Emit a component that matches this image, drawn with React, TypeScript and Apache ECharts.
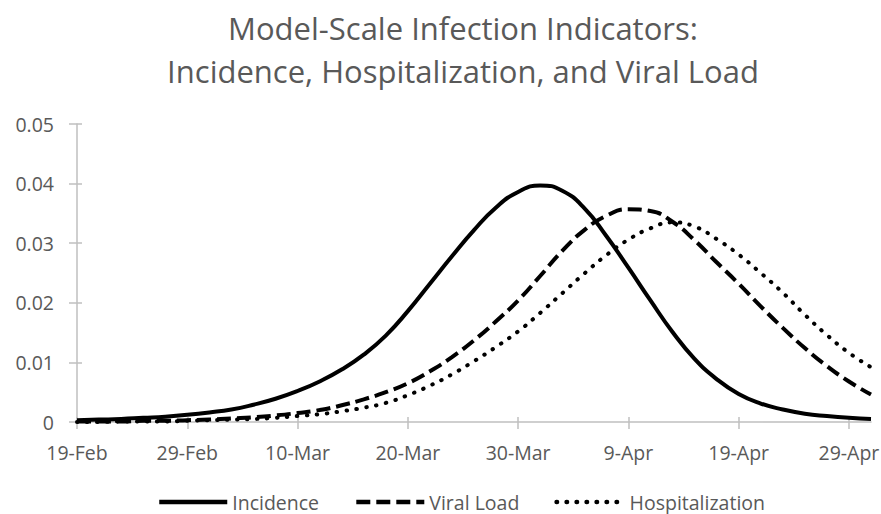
import React, { useEffect, useRef } from "react";
import * as echarts from "echarts";

// Day offsets from 19-Feb (2020)
const days = [0, 2, 4, 6, 8, 10, 12, 14, 16, 18, 20, 22, 24, 26, 28, 30, 32, 34, 36, 38, 40, 42, 44, 46, 48, 50, 52, 54, 56, 58, 60, 62, 64, 66, 68, 70, 72];

const incidence = [0.0003, 0.0004, 0.0005, 0.0007, 0.0009, 0.0012, 0.0016, 0.0021, 0.0029, 0.0039, 0.0052, 0.0068, 0.0088, 0.0113, 0.0145, 0.0186, 0.0232, 0.0278, 0.0322, 0.036, 0.0386, 0.0397, 0.0388, 0.0359, 0.0312, 0.0259, 0.0204, 0.0151, 0.0106, 0.0072, 0.0047, 0.0031, 0.0021, 0.0014, 0.001, 0.0007, 0.0005];

const viralLoad = [0.0001, 0.0001, 0.0001, 0.0002, 0.0002, 0.0003, 0.0004, 0.0006, 0.0008, 0.0011, 0.0015, 0.002, 0.0028, 0.0038, 0.005, 0.0065, 0.0085, 0.0109, 0.0137, 0.0169, 0.0204, 0.0245, 0.0287, 0.0322, 0.0346, 0.0357, 0.0354, 0.0336, 0.0305, 0.0268, 0.0232, 0.0194, 0.0158, 0.0124, 0.0094, 0.0068, 0.0046];

const hospitalization = [0.0, 0.0, 0.0001, 0.0001, 0.0001, 0.0002, 0.0003, 0.0004, 0.0005, 0.0007, 0.001, 0.0013, 0.0018, 0.0024, 0.0032, 0.0045, 0.0061, 0.008, 0.0102, 0.0126, 0.0152, 0.0183, 0.0216, 0.0249, 0.028, 0.0306, 0.0325, 0.0335, 0.0328, 0.0307, 0.0281, 0.025, 0.0217, 0.018, 0.0146, 0.0116, 0.0092];

const xTickDays = [0, 10, 20, 30, 40, 50, 60, 70];
const xTickLabels = ["19-Feb", "29-Feb", "10-Mar", "20-Mar", "30-Mar", "9-Apr", "19-Apr", "29-Apr"];
const seriesNames = ["Incidence", "Viral Load", "Hospitalization"];
const titleLines = ["Model-Scale Infection Indicators:", "Incidence, Hospitalization, and Viral Load"];

const FONT = '"Open Sans", "Noto Sans", sans-serif';
const TEXT = "#595959";
const AXIS = "#BFBFBF";

export default function App() {
  const ref = useRef<HTMLDivElement>(null);

  useEffect(() => {
    if (!ref.current) return;
    const chart = echarts.init(ref.current, undefined, { renderer: "svg" });
    const toPairs = (vals: number[]) => days.map((d, i) => [d, vals[i]]);
    const xCommon = {
      type: "value" as const,
      min: 0,
      max: 72,
      interval: 10,
      position: "bottom" as const,
      splitLine: { show: false },
    };
    const yCommon = {
      type: "value" as const,
      min: 0,
      max: 0.05,
      interval: 0.01,
      position: "left" as const,
      splitLine: { show: false },
    };
    chart.setOption({
      animation: false,
      backgroundColor: "#ffffff",
      textStyle: { fontFamily: FONT },
      graphic: titleLines.map((t, i) => ({
        type: "text",
        x: 463,
        y: 28 + i * 43,
        style: {
          text: t,
          fill: TEXT,
          font: `31px ${FONT}`,
          textAlign: "center",
          textVerticalAlign: "middle",
        },
      })),
      grid: { left: 77, right: 10, top: 124, bottom: 92, containLabel: false, outerBoundsMode: "none" },
      xAxis: [
        {
          ...xCommon,
          axisLine: { show: true, lineStyle: { color: AXIS, width: 1.5 } },
          axisTick: { show: true, inside: false, length: 7, customValues: xTickDays, lineStyle: { color: AXIS, width: 1.5 } },
          axisLabel: {
            show: true,
            customValues: xTickDays,
            margin: 20,
            color: TEXT,
            fontFamily: FONT,
            fontSize: 19.5,
            formatter: (v: number) => {
              const idx = xTickDays.indexOf(Math.round(v));
              return idx >= 0 ? xTickLabels[idx] : "";
            },
          },
        },
        {
          ...xCommon,
          axisLine: { show: false },
          axisTick: { show: true, inside: true, length: 5, customValues: xTickDays, lineStyle: { color: AXIS, width: 1.5 } },
          axisLabel: { show: false },
        },
      ],
      yAxis: [
        {
          ...yCommon,
          axisLine: { show: true, lineStyle: { color: AXIS, width: 1.5 } },
          axisTick: { show: true, inside: false, length: 8, lineStyle: { color: AXIS, width: 1.5 } },
          axisLabel: {
            show: true,
            margin: 23,
            color: TEXT,
            fontFamily: FONT,
            fontSize: 19.5,
            formatter: (v: number) => String(Math.round(v * 100) / 100),
          },
        },
        {
          ...yCommon,
          axisLine: { show: false },
          axisTick: { show: true, inside: true, length: 5, lineStyle: { color: AXIS, width: 1.5 } },
          axisLabel: { show: false },
        },
      ],
      legend: {
        show: true,
        data: seriesNames,
        left: 157,
        top: 491,
        itemWidth: 68,
        itemHeight: 14,
        itemGap: 35,
        padding: 0,
        textStyle: { color: TEXT, fontFamily: FONT, fontSize: 19.5, lineHeight: 22 },
        lineStyle: { width: 4.5 },
        itemStyle: { opacity: 0 },
      },
      series: [
        {
          name: seriesNames[0],
          type: "line",
          data: toPairs(incidence),
          smooth: 0.5,
          symbol: "none",
          lineStyle: { color: "#000000", width: 4, type: "solid" },
          itemStyle: { color: "#000000" },
        },
        {
          name: seriesNames[1],
          type: "line",
          data: toPairs(viralLoad),
          smooth: 0.5,
          symbol: "none",
          lineStyle: { color: "#000000", width: 4, type: [14, 6], cap: "butt" },
          itemStyle: { color: "#000000" },
        },
        {
          name: seriesNames[2],
          type: "line",
          data: toPairs(hospitalization),
          smooth: 0.5,
          symbol: "none",
          lineStyle: { color: "#000000", width: 4, type: [0.5, 9.5], cap: "round" },
          itemStyle: { color: "#000000" },
        },
      ],
    });
    return () => chart.dispose();
  }, []);

  return (
    <div
      ref={ref}
      style={{ position: "absolute", left: 0, top: 0, width: 881, height: 514, background: "#fff" }}
    />
  );
}
